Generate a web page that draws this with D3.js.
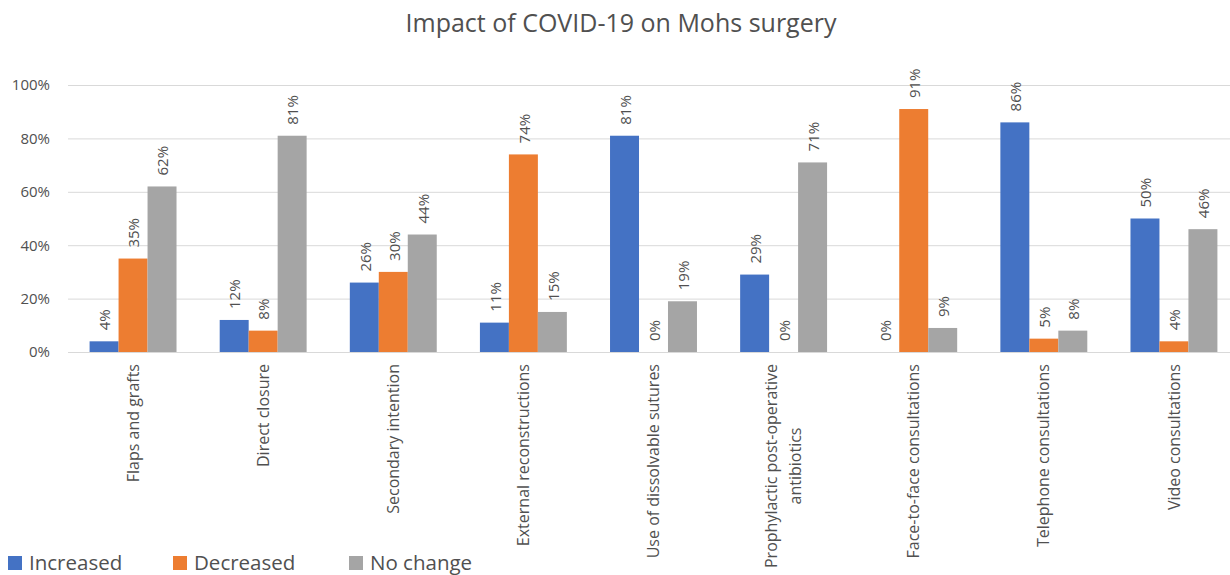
<!DOCTYPE html>
<html>
<head>
<meta charset="utf-8">
<script src="https://cdn.jsdelivr.net/npm/d3@7"></script>
<style>
  html, body { margin: 0; padding: 0; background: #fff; }
  svg { display: block; font-family: "Open Sans", sans-serif; }
</style>
</head>
<body>
<svg id="chart" width="1230" height="575"></svg>
<script>
const categories = [
  ["Flaps and grafts"],
  ["Direct closure"],
  ["Secondary intention"],
  ["External reconstructions"],
  ["Use of dissolvable sutures"],
  ["Prophylactic post-operative", "antibiotics"],
  ["Face-to-face consultations"],
  ["Telephone consultations"],
  ["Video consultations"]
];
const seriesNames = ["Increased", "Decreased", "No change"];
const increased = [4, 12, 26, 11, 81, 29, 0, 86, 50];
const decreased = [35, 8, 30, 74, 0, 0, 91, 5, 4];
const noChange  = [62, 81, 44, 15, 19, 71, 9, 8, 46];
const yTicks = [0, 20, 40, 60, 80, 100];
const colors = ["#4472C4", "#ED7D31", "#A5A5A5"];
const title = "Impact of COVID-19 on Mohs surgery";

const seriesValues = [increased, decreased, noChange];
const catKeys = categories.map(c => c.join(" "));

const svg = d3.select("#chart");
const textColor = "#505050";

const x0 = d3.scaleBand().domain(catKeys).range([68, 1239]).paddingInner(0).paddingOuter(0);
const x1 = d3.scaleBand().domain(seriesNames).range([0, x0.bandwidth()]).paddingInner(0).paddingOuter(0.745);
const y = d3.scaleLinear().domain([0, 100]).range([352, 85]);

// title
svg.append("text")
  .attr("x", 621).attr("y", 32)
  .attr("text-anchor", "middle")
  .attr("font-size", 25)
  .attr("fill", textColor)
  .text(title);

// gridlines
svg.append("g").selectAll("line")
  .data(yTicks)
  .join("line")
  .attr("x1", 68).attr("x2", 1239)
  .attr("y1", d => y(d) + 0.5).attr("y2", d => y(d) + 0.5)
  .attr("stroke", "#D9D9D9").attr("stroke-width", 1);

// y axis labels
const yAxis = d3.axisLeft(y).tickValues(yTicks).tickFormat(d => d + "%").tickSize(0).tickPadding(0);
const yg = svg.append("g").attr("transform", "translate(50,0)").call(yAxis);
yg.select(".domain").remove();
yg.selectAll("text").attr("font-size", 15).attr("fill", textColor).attr("font-family", "Open Sans, sans-serif");

// bars
const groups = svg.append("g").selectAll("g")
  .data(catKeys)
  .join("g")
  .attr("transform", d => `translate(${x0(d)},0)`);

groups.selectAll("rect")
  .data((d, i) => seriesNames.map((s, j) => ({ s, v: seriesValues[j][i], j })))
  .join("rect")
  .attr("x", d => x1(d.s))
  .attr("width", x1.bandwidth())
  .attr("y", d => y(d.v))
  .attr("height", d => y(0) - y(d.v))
  .attr("fill", d => colors[d.j]);

// data labels
groups.selectAll("text.val")
  .data((d, i) => seriesNames.map((s, j) => ({ s, v: seriesValues[j][i], j })))
  .join("text")
  .attr("class", "val")
  .attr("transform", d => `translate(${x1(d.s) + x1.bandwidth() / 2 + 1},${y(d.v) - 11}) rotate(-90)`)
  .attr("dy", "0.35em")
  .attr("text-anchor", "start")
  .attr("font-size", 15)
  .attr("fill", textColor)
  .text(d => d.v + "%");

// category labels
const xAxis = d3.axisBottom(x0).tickSize(0).tickFormat("");
const xg = svg.append("g").attr("transform", `translate(0,${y(0)})`).call(xAxis);
xg.select(".domain").remove();

categories.forEach((lines, i) => {
  const cx = x0(catKeys[i]) + x0.bandwidth() / 2;
  const g = svg.append("g").attr("transform", `translate(${cx},364) rotate(-90)`);
  if (lines.length === 1) {
    g.append("text")
      .attr("text-anchor", "end")
      .attr("dy", "0.35em")
      .attr("font-size", 16)
      .attr("fill", textColor)
      .text(lines[0]);
  } else {
    const t1 = g.append("text")
      .attr("text-anchor", "middle")
      .attr("font-size", 16)
      .attr("fill", textColor)
      .attr("dy", "-0.4em")
      .text(lines[0]);
    const len = t1.node().getComputedTextLength();
    t1.attr("x", -len / 2);
    g.append("text")
      .attr("text-anchor", "middle")
      .attr("font-size", 16)
      .attr("fill", textColor)
      .attr("x", -len / 2)
      .attr("dy", "1.1em")
      .text(lines[1]);
  }
});

// legend
const legendX = [8, 173, 349];
const lg = svg.append("g").selectAll("g")
  .data(seriesNames)
  .join("g")
  .attr("transform", (d, i) => `translate(${legendX[i]},556)`);
lg.append("rect").attr("width", 14).attr("height", 14).attr("fill", (d, i) => colors[i]);
lg.append("text")
  .attr("x", 21).attr("y", 14)
  .attr("font-size", 20.5)
  .attr("fill", textColor)
  .text(d => d);
</script>
</body>
</html>
